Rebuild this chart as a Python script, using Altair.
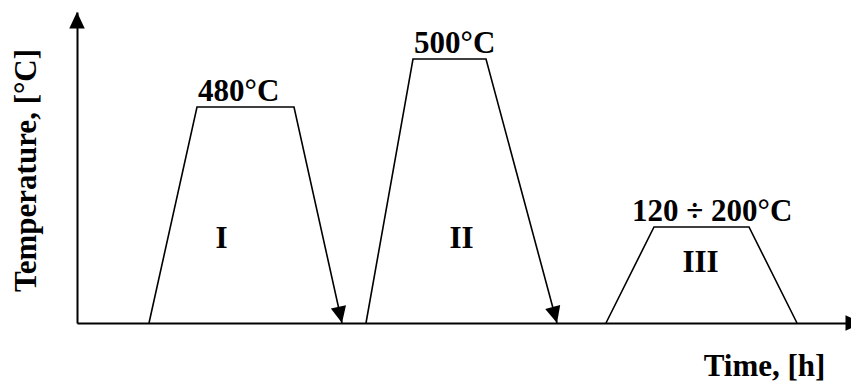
import math
import altair as alt
import pandas as pd

# ---- data (schematic units: time in arbitrary hours, level in arbitrary temperature units) ----
stage_names = ["I", "II", "III"]
stage_times = [
    [7.2, 12.0, 21.7, 26.5],
    [28.9, 33.6, 40.9, 48.0],
    [52.9, 57.7, 67.2, 72.0],
]
stage_levels = [
    [0, 216, 216, 0],
    [0, 264, 264, 0],
    [0, 96, 96, 0],
]
plateau_labels = ["480°C", "500°C", "120 ÷ 200°C"]
cooling_arrow = [True, True, False]

numeral_times = [14.45, 38.45, 62.35]
numeral_levels = [75, 75, 51]

x_max = 77.4
y_max = 311
x_arrow_tip = 78.5

# ---- style / layout ----
PLOT_W, PLOT_H = 774, 311
PX_PER_T = PLOT_W / x_max
PX_PER_V = PLOT_H / y_max
FONT = "Liberation Serif"
FS = 31
label_shift_px = [1, 1, -22]
ARROW = "M0,0L-0.47,-1L0.47,-1Z"

# ---- tables ----
rows = []
for name, ts, vs in zip(stage_names, stage_times, stage_levels):
    for i, (t, v) in enumerate(zip(ts, vs)):
        rows.append({"stage": name, "order": i, "t": t, "v": v})
line_df = pd.DataFrame(rows)

arrow_rows = [
    {"t": 0, "v": y_max, "angle": 180},
    {"t": x_arrow_tip, "v": 0, "angle": 270},
]
for ts, vs, has in zip(stage_times, stage_levels, cooling_arrow):
    if has:
        dx = (ts[3] - ts[2]) * PX_PER_T
        dy = (vs[2] - vs[3]) * PX_PER_V
        ang = 360 - math.degrees(math.atan2(dx, dy))
        arrow_rows.append({"t": ts[3], "v": vs[3], "angle": ang})
arrow_df = pd.DataFrame(arrow_rows)

plateau_df = pd.DataFrame({
    "t": [ts[1] + s / PX_PER_T for ts, s in zip(stage_times, label_shift_px)],
    "v": [vs[1] for vs in stage_levels],
    "label": plateau_labels,
})
numeral_df = pd.DataFrame({"t": numeral_times, "v": numeral_levels, "label": stage_names})

x_enc = alt.X(
    "t:Q",
    scale=alt.Scale(domain=[0, x_max], nice=False, zero=False),
    axis=alt.Axis(
        title="Time, [h]", labels=False, ticks=False, grid=False,
        domainColor="black", domainWidth=2,
        titleFont=FONT, titleFontSize=FS, titleFontWeight="bold", titleColor="black",
        titleX=687, titleY=52, titleAlign="center", titleBaseline="alphabetic",
    ),
)
y_enc = alt.Y(
    "v:Q",
    scale=alt.Scale(domain=[0, y_max], nice=False, zero=False),
    axis=alt.Axis(
        title="Temperature, [°C]", labels=False, ticks=False, grid=False,
        domainColor="black", domainWidth=2,
        titleFont=FONT, titleFontSize=FS, titleFontWeight="bold", titleColor="black",
        titleAngle=270, titleX=-41.5, titleY=158, titleAlign="center",
        titleBaseline="alphabetic",
    ),
)

lines = alt.Chart(line_df).mark_line(color="black", strokeWidth=1.6).encode(
    x=x_enc, y=y_enc, detail="stage:N", order="order:Q"
)

arrows = alt.Chart(arrow_df).mark_point(
    shape=ARROW, size=1089, filled=True, color="black", opacity=1, strokeWidth=0
).encode(x="t:Q", y="v:Q", angle=alt.Angle("angle:Q", scale=None))

plateau_text = alt.Chart(plateau_df).mark_text(
    align="left", baseline="alphabetic", dy=-6, font=FONT, fontSize=FS,
    fontWeight="bold", color="black"
).encode(x="t:Q", y="v:Q", text="label:N")

numeral_text = alt.Chart(numeral_df).mark_text(
    align="center", baseline="alphabetic", font=FONT, fontSize=FS,
    fontWeight="bold", color="black"
).encode(x="t:Q", y="v:Q", text="label:N")

chart = (
    alt.layer(lines, arrows, plateau_text, numeral_text)
    .properties(
        width=PLOT_W, height=PLOT_H,
        autosize=alt.AutoSizeParams(type="none"),
        padding={"left": 69, "top": 4, "right": 0, "bottom": 59},
        background="white",
    )
    .configure_view(strokeWidth=0)
)

chart.save("out.html", embed_options={"renderer": "svg", "actions": False})
